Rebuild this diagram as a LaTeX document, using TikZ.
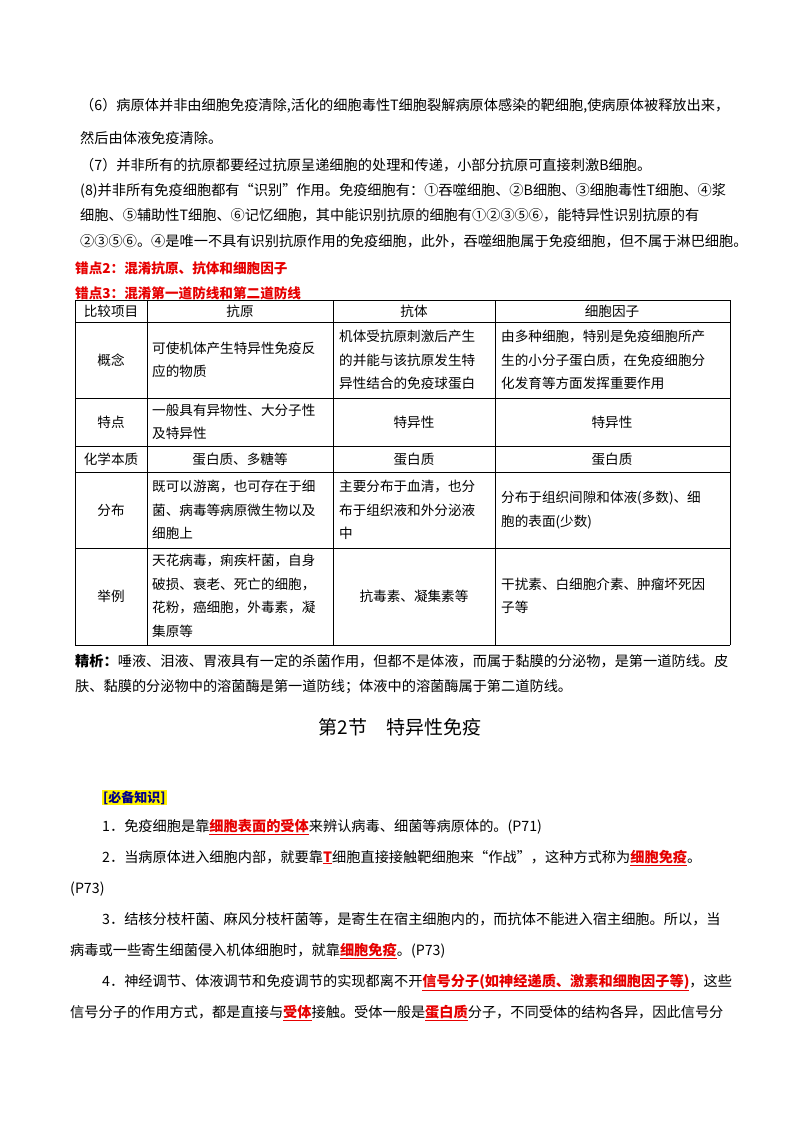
\documentclass[tikz,border=0pt]{standalone}
\usepackage{fontspec}
\setmainfont{Noto Sans CJK SC}
\usetikzlibrary{positioning}
\definecolor{errred}{RGB}{230,0,0}
\newcommand{\keyword}[1]{\textcolor{errred}{\bfseries\underline{#1}}}
\begin{document}
\begin{tikzpicture}[x=1pt,y=-1pt,
    line/.style={anchor=base west,inner sep=0pt,font=\fontsize{14.2}{16}\selectfont},
    cell/.style={inner sep=2pt,font=\fontsize{13.6}{23.5}\selectfont,align=left},
    grid line/.style={line width=0.6pt}]
  \useasboundingbox[fill=white] (0,0) rectangle (800,1132);

  % upper notes
  \node[line] (n6a) at (80,110) {（6）病原体并非由细胞免疫清除,活化的细胞毒性T细胞裂解病原体感染的靶细胞,使病原体被释放出来，};
  \node[line] (n6b) at (80,143) {然后由体液免疫清除。};
  \node[line] (n7) at (80,170) {（7）并非所有的抗原都要经过抗原呈递细胞的处理和传递，小部分抗原可直接刺激B细胞。};
  \node[line] (n8a) at (80,195) {(8)并非所有免疫细胞都有“识别”作用。免疫细胞有：①吞噬细胞、②B细胞、③细胞毒性T细胞、④浆};
  \node[line] (n8b) at (80,220) {细胞、⑤辅助性T细胞、⑥记忆细胞，其中能识别抗原的细胞有①②③⑤⑥，能特异性识别抗原的有};
  \node[line] (n8c) at (80,246) {②③⑤⑥。④是唯一不具有识别抗原作用的免疫细胞，此外，吞噬细胞属于免疫细胞，但不属于淋巴细胞。};
  \node[line,text=errred,font=\fontsize{13.6}{15}\selectfont\bfseries] (err2) at (75,273) {错点2：混淆抗原、抗体和细胞因子};
  \node[line,text=errred,font=\fontsize{13.6}{15}\selectfont\bfseries] (err3) at (75,298) {错点3：混淆第一道防线和第二道防线};

  % table
  \foreach \y in {300,322,398,446,472,548,645}
    \draw[grid line] (75,\y) -- (730,\y);
  \foreach \x in {75,147,333,495,730}
    \draw[grid line] (\x,300) -- (\x,645);
  \node[cell] (h1) at (111,311) {比较项目};
  \node[cell] (h2) at (240,311) {抗原};
  \node[cell] (h3) at (414,311) {抗体};
  \node[cell] (h4) at (612,311) {细胞因子};
  \node[cell] (r1) at (111,360) {概念};
  \node[cell,anchor=west] (r1a) at (150,360) {可使机体产生特异性免疫反\\应的物质};
  \node[cell,anchor=west] (r1b) at (337,360) {机体受抗原刺激后产生\\的并能与该抗原发生特\\异性结合的免疫球蛋白};
  \node[cell,anchor=west] (r1c) at (499,360) {由多种细胞，特别是免疫细胞所产\\生的小分子蛋白质，在免疫细胞分\\化发育等方面发挥重要作用};
  \node[cell] (r2) at (111,422) {特点};
  \node[cell,anchor=west] (r2a) at (150,422) {一般具有异物性、大分子性\\及特异性};
  \node[cell] (r2b) at (414,422) {特异性};
  \node[cell] (r2c) at (612,422) {特异性};
  \node[cell] (r3) at (111,459) {化学本质};
  \node[cell] (r3a) at (240,459) {蛋白质、多糖等};
  \node[cell] (r3b) at (414,459) {蛋白质};
  \node[cell] (r3c) at (612,459) {蛋白质};
  \node[cell] (r4) at (111,510) {分布};
  \node[cell,anchor=west] (r4a) at (150,510) {既可以游离，也可存在于细\\菌、病毒等病原微生物以及\\细胞上};
  \node[cell,anchor=west] (r4b) at (337,510) {主要分布于血清，也分\\布于组织液和外分泌液\\中};
  \node[cell,anchor=west] (r4c) at (499,510) {分布于组织间隙和体液(多数)、细\\胞的表面(少数)};
  \node[cell] (r5) at (111,596) {举例};
  \node[cell,anchor=west] (r5a) at (150,596) {天花病毒，痢疾杆菌，自身\\破损、衰老、死亡的细胞，\\花粉，癌细胞，外毒素，凝\\集原等};
  \node[cell] (r5b) at (414,596) {抗毒素、凝集素等};
  \node[cell,anchor=west] (r5c) at (499,596) {干扰素、白细胞介素、肿瘤坏死因\\子等};

  % remark
  \node[line] (rem1) at (75,666) {\textbf{精析：}唾液、泪液、胃液具有一定的杀菌作用，但都不是体液，而属于黏膜的分泌物，是第一道防线。皮};
  \node[line] (rem2) at (75,691) {肤、黏膜的分泌物中的溶菌酶是第一道防线；体液中的溶菌酶属于第二道防线。};

  % section
  \node[inner sep=0pt,font=\fontsize{19}{22}\selectfont] (sec) at (400,727) {第2节\quad 特异性免疫};
  \node[line,fill=yellow,inner sep=1pt,font=\fontsize{13}{15}\selectfont\bfseries,text={rgb,255:red,0;green,0;blue,140}] (know) at (102,802) {[必备知识]};
  \node[line] (k1) at (102,831) {1．免疫细胞是靠\keyword{细胞表面的受体}来辨认病毒、细菌等病原体的。(P71)};
  \node[line] (k2) at (102,862) {2．当病原体进入细胞内部，就要靠\keyword{T}细胞直接接触靶细胞来“作战”，这种方式称为\keyword{细胞免疫}。};
  \node[line] (k2b) at (70,893) {(P73)};
  \node[line] (k3) at (102,924) {3．结核分枝杆菌、麻风分枝杆菌等，是寄生在宿主细胞内的，而抗体不能进入宿主细胞。所以，当};
  \node[line] (k3b) at (70,955) {病毒或一些寄生细菌侵入机体细胞时，就靠\keyword{细胞免疫}。(P73)};
  \node[line] (k4) at (102,986) {4．神经调节、体液调节和免疫调节的实现都离不开\keyword{信号分子(如神经递质、激素和细胞因子等)}，这些};
  \node[line] (k4b) at (70,1017) {信号分子的作用方式，都是直接与\keyword{受体}接触。受体一般是\keyword{蛋白质}分子，不同受体的结构各异，因此信号分};
\end{tikzpicture}
\end{document}
